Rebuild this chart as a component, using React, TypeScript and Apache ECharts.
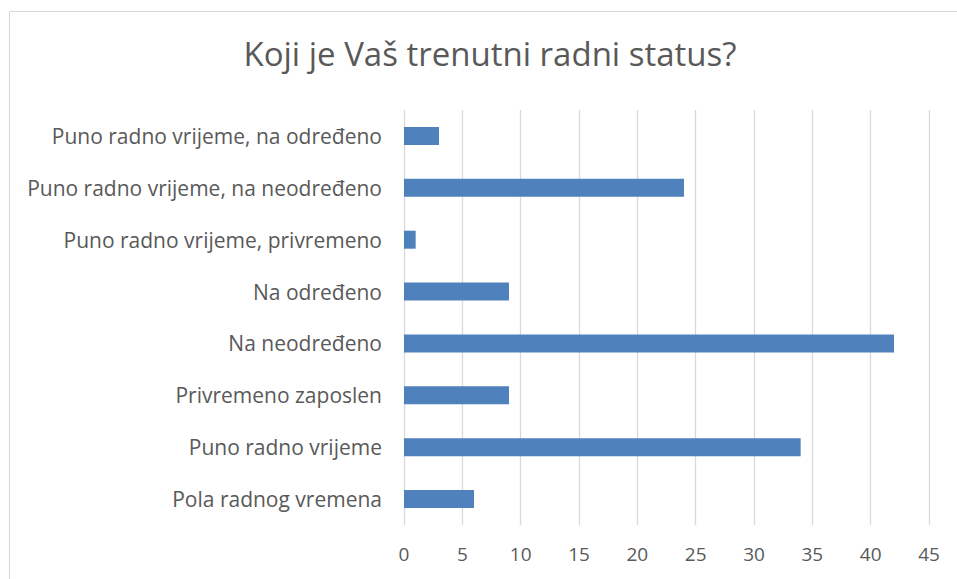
import React, { useEffect, useRef } from "react";
import * as echarts from "echarts";

const categories = [
  "Puno radno vrijeme, na određeno",
  "Puno radno vrijeme, na neodređeno",
  "Puno radno vrijeme, privremeno",
  "Na određeno",
  "Na neodređeno",
  "Privremeno zaposlen",
  "Puno radno vrijeme",
  "Pola radnog vremena",
];
const values = [3, 24, 1, 9, 42, 9, 34, 6];
const titleText = "Koji je Vaš trenutni radni status?";

export default function App() {
  const ref = useRef<HTMLDivElement>(null);
  useEffect(() => {
    if (!ref.current) return;
    const chart = echarts.init(ref.current, undefined, { renderer: "svg" });
    const font = "'Open Sans', 'Noto Sans', sans-serif";
    chart.setOption({
      animation: false,
      backgroundColor: "#ffffff",
      graphic: [
        {
          type: "rect",
          shape: { x: 9.5, y: 11.5, width: 1200, height: 1200 },
          style: { fill: "none", stroke: "#d9d9d9", lineWidth: 1 },
          silent: true,
        },
        {
          type: "text",
          x: 490,
          y: 53,
          style: {
            text: titleText,
            fontFamily: font,
            fontSize: 33,
            fill: "#595959",
            textAlign: "center",
            textVerticalAlign: "middle",
          },
        },
      ],
      grid: { left: 404, right: 28, top: 110, bottom: 54, containLabel: false },
      xAxis: {
        type: "value",
        min: 0,
        max: 45,
        interval: 5,
        axisLine: { show: false },
        axisTick: { show: false },
        splitLine: { show: true, lineStyle: { color: "#d9d9d9", width: 1.3 } },
        axisLabel: { color: "#595959", fontSize: 19, fontFamily: font, margin: 19 },
      },
      yAxis: {
        type: "category",
        data: categories,
        inverse: true,
        axisLine: { show: false },
        axisTick: { show: false },
        axisLabel: { color: "#595959", fontSize: 21, fontFamily: font, margin: 22 },
      },
      series: [
        {
          type: "bar",
          data: values,
          barWidth: 18,
          itemStyle: { color: "#4f81bd" },
        },
      ],
    });
    return () => chart.dispose();
  }, []);
  return (
    <div
      ref={ref}
      style={{ position: "absolute", left: 0, top: 0, width: 957, height: 579 }}
    />
  );
}
